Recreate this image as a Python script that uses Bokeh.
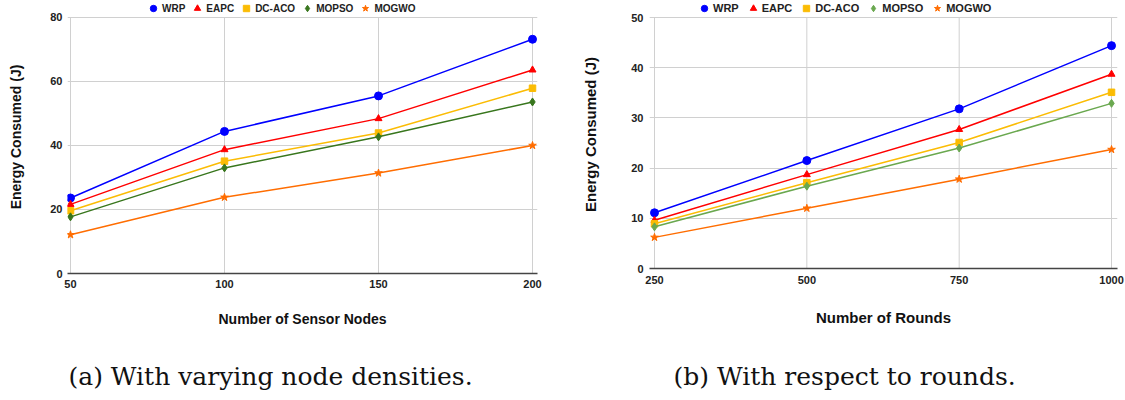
from bokeh.plotting import figure
from bokeh.layouts import row, column
from bokeh.models import Range1d, FixedTicker, Legend, LegendItem, Label
from bokeh.embed import file_html
from bokeh.resources import INLINE

# ---------------- data ----------------
series = ["WRP", "EAPC", "DC-ACO", "MOPSO", "MOGWO"]

nodes = [50, 100, 150, 200]
wrp_a = [23.6, 44.4, 55.5, 73.2]
eapc_a = [21.6, 38.7, 48.4, 63.6]
dcaco_a = [19.6, 35.1, 43.9, 57.9]
mopso_a = [17.7, 33.0, 42.7, 53.6]
mogwo_a = [12.1, 23.8, 31.4, 40.0]

rounds = [250, 500, 750, 1000]
wrp_b = [11.1, 21.5, 31.8, 44.4]
eapc_b = [9.6, 18.7, 27.7, 38.7]
dcaco_b = [8.9, 17.1, 25.1, 35.1]
mopso_b = [8.3, 16.4, 24.0, 32.9]
mogwo_b = [6.2, 12.0, 17.8, 23.7]

yticks_a = [0, 20, 40, 60, 80]
yticks_b = [0, 10, 20, 30, 40, 50]

xlabel_a = "Number of Sensor Nodes"
xlabel_b = "Number of Rounds"
ylabel = "Energy Consumed (J)"
caption_a = "(a) With varying node densities."
caption_b = "(b) With respect to rounds."

# ---------------- styles ----------------
SANS = "Liberation Sans"
SERIF = "DejaVu Serif"
markers = ["circle", "triangle", "square", "diamond", "star"]
msizes = [8, 7, 6.5, 8, 8]
colors_a = ["#0000ff", "#ff0000", "#fbbc04", "#38761d", "#ff6d01"]
colors_b = ["#0000ff", "#ff0000", "#fbbc04", "#6aa84f", "#ff6d01"]
GRID = "#d0d0d0"


def make_plot(x, ys, colors, xr, yr, yticks, xlabel, cfg):
    p = figure(width=cfg["width"], height=cfg["height"], title=None,
               x_range=Range1d(*xr), y_range=Range1d(*yr),
               output_backend="svg", toolbar_location=None,
               min_border_left=cfg["bl"], min_border_right=cfg["br"],
               min_border_top=0, min_border_bottom=cfg["bb"])
    p.outline_line_color = None
    p.background_fill_color = "white"
    p.border_fill_color = "white"

    p.xaxis.ticker = FixedTicker(ticks=x)
    p.yaxis.ticker = FixedTicker(ticks=yticks)
    for ax in (p.xaxis[0], p.yaxis[0]):
        ax.major_tick_line_color = None
        ax.minor_tick_line_color = None
        ax.major_tick_out = 0
        ax.major_tick_in = 0
        ax.major_label_text_font = SANS
        ax.major_label_text_font_style = "bold"
        ax.major_label_text_font_size = cfg["tick_fs"]
        ax.major_label_text_color = "#222222"
        ax.axis_label_text_font = SANS
        ax.axis_label_text_font_style = "bold"
        ax.axis_label_text_font_size = cfg["label_fs"]
        ax.axis_label_text_color = "#111111"
    p.yaxis.axis_line_color = None
    p.xaxis.axis_line_color = "#444444"
    p.xaxis.axis_line_width = 1.5
    p.xaxis.axis_label = xlabel
    p.yaxis.axis_label = ylabel
    p.xaxis.major_label_standoff = cfg["x_ls"]
    p.yaxis.major_label_standoff = cfg["y_ls"]
    p.xaxis.axis_label_standoff = cfg["x_als"]
    p.yaxis.axis_label_standoff = cfg["y_als"]

    # horizontal grid from the ticker; vertical grid lines stop at the top tick
    p.ygrid.ticker = FixedTicker(ticks=yticks)
    p.ygrid.grid_line_color = GRID
    p.ygrid.grid_line_width = 1
    p.xgrid.visible = False
    p.segment(x0=x, y0=[yticks[0]] * len(x), x1=x, y1=[yticks[-1]] * len(x),
              line_color=GRID, line_width=1)

    items = []
    for name, y, c, m, s in zip(series, ys, colors, markers, msizes):
        p.line(x, y, line_color=c, line_width=1.5)
        r = p.scatter(x, y, marker=m, size=s, fill_color=c, line_color=c)
        items.append(LegendItem(label=name, renderers=[r]))

    legend = Legend(items=items, orientation="horizontal",
                    location=cfg["leg_loc"],
                    label_text_font=SANS, label_text_font_style="bold",
                    label_text_font_size=cfg["leg_fs"],
                    label_text_color="#222222",
                    glyph_width=16, glyph_height=16, label_height=16,
                    label_standoff=1, spacing=cfg["leg_sp"],
                    padding=0, margin=0,
                    border_line_color=None, background_fill_alpha=0)
    p.add_layout(legend, "center")
    return p


def make_caption(text, width, height, x_off, y_off):
    c = figure(width=width, height=height, title=None,
               x_range=Range1d(0, 1), y_range=Range1d(0, 1),
               x_axis_location=None, y_axis_location=None,
               output_backend="svg", toolbar_location=None,
               min_border=0)
    c.outline_line_color = None
    c.grid.visible = False
    c.add_layout(Label(x=x_off, y=y_off, x_units="screen", y_units="screen",
                       text=text, text_font=SERIF, text_font_size="25px",
                       text_color="#111111", text_baseline="alphabetic"))
    return c


# chart figures are 340 px tall; frame top at the window top
cfg_a = dict(width=562, height=340, bl=67, br=25, bb=67,
             tick_fs="11px", label_fs="14px", leg_fs="10px", leg_sp=4,
             x_ls=6, y_ls=5, x_als=20, y_als=23,
             leg_loc=(78, 257))
cfg_b = dict(width=563, height=340, bl=87, br=8, bb=72,
             tick_fs="11px", label_fs="15px", leg_fs="11px", leg_sp=6,
             x_ls=7, y_ls=6, x_als=22, y_als=29,
             leg_loc=(47, 252))

p1 = make_plot(nodes, [wrp_a, eapc_a, dcaco_a, mopso_a, mogwo_a], colors_a,
               (49.03, 201.62), (0, 85.31), yticks_a, xlabel_a, cfg_a)
p2 = make_plot(rounds, [wrp_b, eapc_b, dcaco_b, mopso_b, mogwo_b], colors_b,
               (241.8, 1009.8), (0, 53.39), yticks_b, xlabel_b, cfg_b)

# caption frames line up with the chart frames above them
c1 = make_caption(caption_a, 562, 60, 1, 24)
c2 = make_caption(caption_b, 563, 60, 24, 24)

layout = column(row(column(p1, c1), column(p2, c2)))

open("out.html", "w").write(file_html(layout, INLINE))
